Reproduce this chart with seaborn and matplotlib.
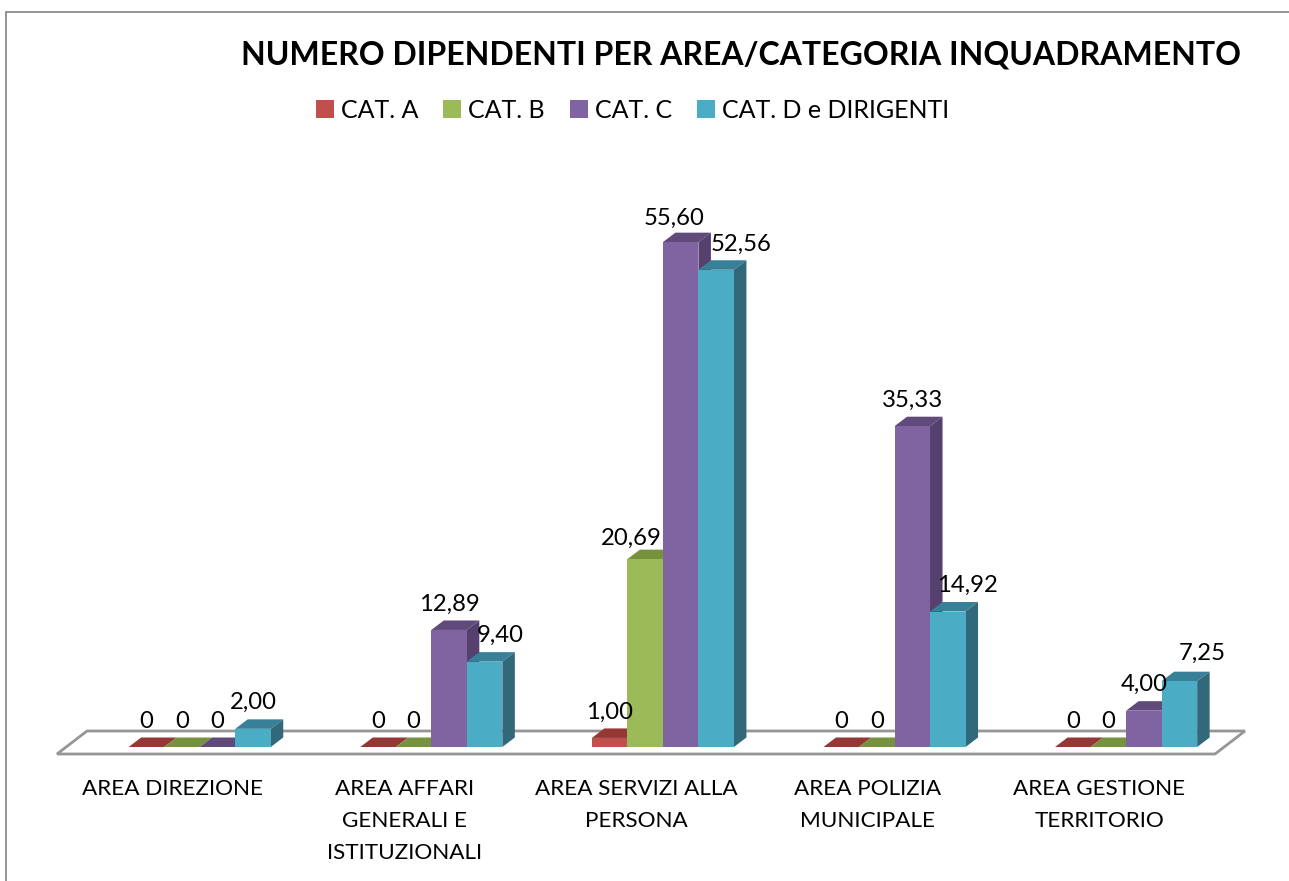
import matplotlib
matplotlib.use("Agg")
import matplotlib.pyplot as plt
from matplotlib.lines import Line2D
from matplotlib.patches import Polygon
from matplotlib.transforms import Affine2D, ScaledTranslation
import pandas as pd
import seaborn as sns

# ---- data ----
areas = ["AREA DIREZIONE", "AREA AFFARI\nGENERALI E\nISTITUZIONALI",
         "AREA SERVIZI ALLA\nPERSONA", "AREA POLIZIA\nMUNICIPALE",
         "AREA GESTIONE\nTERRITORIO"]
cat_names = ["CAT. A", "CAT. B", "CAT. C", "CAT. D e DIRIGENTI"]
cat_a = [0, 0, 1.00, 0, 0]
cat_b = [0, 0, 20.69, 0, 0]
cat_c = [0, 12.89, 55.60, 35.33, 4.00]
cat_d = [2.00, 9.40, 52.56, 14.92, 7.25]
title = "NUMERO DIPENDENTI PER AREA/CATEGORIA INQUADRAMENTO"

# ---- styles ----
front = ["#C0504D", "#9BBB59", "#8064A2", "#4BACC6"]
top = ["#953735", "#76923C", "#604A7B", "#378097"]
side = ["#772C2A", "#5F752F", "#55406E", "#31697B"]
# label nudges in pixels (series, area): dx, dy
nudges = {(3, 1): (16, 0), (1, 2): (-14, 5), (2, 2): (-7, 2), (3, 2): (25, 1),
          (3, 3): (20, 0), (3, 4): (23, -2)}

W, H = 1289, 881
plt.rcParams["font.family"] = ["Lato", "DejaVu Sans"]
sns.set_style("white")
plt.rcParams["font.family"] = ["Lato", "DejaVu Sans"]

df = pd.DataFrame({
    "area": areas * 4,
    "cat": [c for c in cat_names for _ in areas],
    "val": cat_a + cat_b + cat_c + cat_d,
})

fig = plt.figure(figsize=(W / 100, H / 100), dpi=100, facecolor="white")
AX_BOTTOM = 768
ax = fig.add_axes([0, 1 - AX_BOTTOM / H, 1, AX_BOTTOM / H])
ax.set_facecolor("none")

sns.barplot(data=df, x="area", y="val", hue="cat", order=areas, hue_order=cat_names,
            palette=dict(zip(cat_names, front)), saturation=1, width=0.6135, gap=0,
            dodge=True, ax=ax, errorbar=None, linewidth=0)

X0, XSTEP, Y0, YSCALE = 199.7, 231.6, 747, 9.08
ax.set_xlim(-X0 / XSTEP, (W - X0) / XSTEP)
ax.set_ylim(-(AX_BOTTOM - Y0) / YSCALE, Y0 / YSCALE)

px = Affine2D().scale(1 / W, -1 / H).translate(0, 1) + fig.transFigure

# floor
floor = Polygon([(57, 754), (87, 731), (1245, 731), (1215, 754)], closed=True,
                facecolor="white", edgecolor="#969696", linewidth=2.0, transform=px, zorder=1)
ax.add_patch(floor)

# 3D faces, derived from each drawn bar
DX = 12.5 / XSTEP
DY = 9.5 / YSCALE
values = [cat_a, cat_b, cat_c, cat_d]
for h, cont in enumerate(ax.containers):
    z = 3 + h
    for i, bar in enumerate(cont.patches):
        x0, x1 = bar.get_x(), bar.get_x() + bar.get_width()
        v = bar.get_height()
        bar.set_zorder(z + 0.5)
        ax.add_patch(Polygon([(x0, v), (x0 + DX, v + DY), (x1 + DX, v + DY), (x1, v)],
                             closed=True, facecolor=top[h], edgecolor="none", zorder=z))
        if v > 0:
            ax.add_patch(Polygon([(x1, 0), (x1 + DX, DY), (x1 + DX, v + DY), (x1, v)],
                                 closed=True, facecolor=side[h], edgecolor="none", zorder=z))
        ndx, ndy = nudges.get((h, i), (0, 0))
        txt = "0" if values[h][i] == 0 else f"{values[h][i]:.2f}".replace(".", ",")
        ax.annotate(txt, ((x0 + x1) / 2, v), xytext=(ndx * 0.72, (26 - ndy) * 0.72),
                    textcoords="offset points", ha="center", va="center",
                    fontsize=17.2, color="black", zorder=20)

# axis cosmetics
sns.despine(ax=ax, left=True, bottom=True)
ax.set_xlabel("")
ax.set_ylabel("")
ax.set_yticks([])
ax.set_xticks(range(len(areas)))
ax.set_xticklabels(areas, fontsize=16.2, linespacing=1.74, color="black")
ax.tick_params(axis="x", length=0, pad=8)
shift = ScaledTranslation(-27 / 100, 0, fig.dpi_scale_trans)
for lab in ax.get_xticklabels():
    lab.set_transform(lab.get_transform() + shift)

# legend
handles, labels = ax.get_legend_handles_labels()
ax.legend(handles, labels, loc="center left", bbox_to_anchor=(316, 110),
          bbox_transform=px, ncol=4, frameon=False, fontsize=18.0, borderpad=0,
          handlelength=0.72, handleheight=0.72, handletextpad=0.28, columnspacing=1.0,
          borderaxespad=0, labelcolor="black")

# title and frame
fig.text(741 / W, 1 - 55 / H, title, ha="center", va="center", fontsize=23.0,
         fontweight="bold", color="black")
for xs, ys in [((6, 6), (881, 12)), ((6, 1289), (12, 12))]:
    fig.add_artist(Line2D([x / W for x in xs], [1 - y / H for y in ys],
                          color="#8c8c8c", linewidth=1.3))

fig.savefig("out.png", dpi=100)
